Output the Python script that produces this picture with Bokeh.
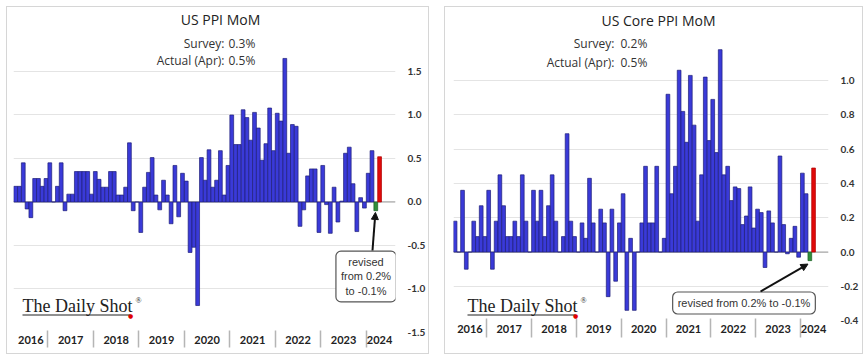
from bokeh.plotting import figure
from bokeh.layouts import row, column
from bokeh.models import (FixedTicker, NumeralTickFormatter, Span, Label, Arrow,
                          NormalHead, BoxAnnotation, Range1d, ColumnDataSource, Spacer)
from bokeh.embed import file_html
from bokeh.resources import INLINE

# ---------------- data ----------------
years = ["2016", "2017", "2018", "2019", "2020", "2021", "2022", "2023", "2024"]
months_per_year = [9, 12, 12, 12, 12, 12, 12, 12, 4]   # Apr-2016 .. Apr-2024

ppi_mom = [0.18, 0.18, 0.45, -0.08, -0.18, 0.27, 0.27, 0.18, 0.27,
           0.45, 0.0, 0.18, 0.45, -0.1, 0.09, 0.09, 0.35, 0.35, 0.35, 0.35, 0.09,
           0.35, 0.26, 0.17, 0.17, 0.35, 0.35, 0.08, 0.08, 0.17, 0.68, -0.1, 0.0,
           -0.35, 0.17, 0.34, 0.51, 0.08, -0.09, 0.25, 0.08, -0.25, 0.42, -0.17, 0.33,
           0.24, -0.58, -0.52, -1.19, 0.51, 0.25, 0.6, 0.17, 0.25, 0.59, 0.08, 0.42,
           1.0, 0.66, 0.66, 1.06, 0.97, 0.71, 1.03, 0.85, 0.48, 0.67, 1.08, 0.59,
           1.02, 0.93, 1.65, 0.56, 0.89, 0.87, -0.28, -0.09, 0.30, 0.38, 0.38, -0.35,
           0.42, -0.03, -0.36, 0.17, -0.23, 0.01, 0.56, 0.63, 0.21, -0.34, 0.05, -0.07,
           0.33, 0.59, -0.1, 0.52]

core_ppi_mom = [0.18, 0.0, 0.36, -0.1, 0.0, 0.18, 0.09, 0.27, 0.09,
                0.36, -0.1, 0.18, 0.45, 0.27, 0.09, 0.09, 0.18, 0.09, 0.45, 0.18, 0.0,
                0.36, 0.18, 0.36, 0.09, 0.27, 0.45, 0.18, 0.0, 0.09, 0.69, 0.18, 0.09,
                0.0, 0.17, 0.08, 0.43, 0.17, 0.0, 0.25, 0.17, -0.26, 0.25, -0.17, 0.17,
                0.34, -0.34, 0.08, -0.34, 0.0, 0.17, 0.5, 0.17, 0.17, 0.5, 0.0, 0.08,
                0.92, 0.34, 0.5, 1.06, 0.82, 0.64, 1.03, 0.74, 0.18, 0.45, 1.02, 0.65,
                0.89, 0.58, 1.18, 0.45, 0.5, 0.3, 0.38, 0.37, 0.16, 0.21, 0.38, 0.14,
                0.25, 0.23, -0.09, 0.24, 0.17, 0.0, 0.56, 0.16, -0.01, 0.08, 0.15, -0.03,
                0.46, 0.34, -0.05, 0.49]

ppi_ticks = [-1.5, -1.0, -0.5, 0.0, 0.5, 1.0, 1.5]
core_ticks = [-0.4, -0.2, 0.0, 0.2, 0.4, 0.6, 0.8, 1.0]

ppi_title = "US PPI MoM"
core_title = "US Core PPI MoM"
ppi_survey, ppi_actual = "0.3%", "0.5%"
core_survey, core_actual = "0.2%", "0.5%"
revised_note = "revised from 0.2% to -0.1%"

# ---------------- styles ----------------
BLUE, BLUE_EDGE = "#3a3ad8", "#1e1e78"
RED, GREEN = "#e00a0a", "#2f8f3a"
SANS = "Lato"
TEXT = "Open Sans"
SERIF = "Liberation Serif"

n = len(ppi_mom)
idx = list(range(n))
colors = [BLUE] * (n - 2) + [GREEN, RED]
edges = [BLUE_EDGE] * (n - 2) + ["#1d5e25", "#b00000"]

# year separators / label positions
starts = []
s = 0
for m in months_per_year:
    starts.append(s)
    s += m
label_pos = [max(st + (m - 1) / 2.0, st + 3.0) for st, m in zip(starts, months_per_year)]
separators = [st - 0.5 for st in starts[1:]]


def make_panel(vals, ticks, width, height, xr, yr, borders, tick_in, tick_out, standoff):
    bl, br, bt, bb = borders
    p = figure(width=width, height=height, x_range=Range1d(*xr), y_range=Range1d(*yr),
               y_axis_location="right", toolbar_location=None, output_backend="svg",
               min_border_left=bl, min_border_right=br, min_border_top=bt,
               min_border_bottom=bb)
    p.outline_line_color = None
    p.background_fill_color = "white"
    p.border_fill_color = "white"
    p.styles = {"outline": "1px solid #d6d6d6"}

    p.add_layout(Span(location=0, dimension="width", line_color="#9a9a9a",
                      line_width=1, level="underlay"))

    src = ColumnDataSource(dict(x=idx, top=vals, fill=colors, edge=edges))
    p.vbar(x="x", top="top", bottom=0, width=1.0, source=src,
           fill_color="fill", line_color="edge", line_width=0.7)

    p.xgrid.grid_line_color = None
    p.ygrid.ticker = FixedTicker(ticks=ticks[1:])
    p.ygrid.grid_line_color = "#e4e4e4"
    p.ygrid.grid_line_width = 1

    ya = p.yaxis[0]
    ya.ticker = FixedTicker(ticks=ticks)
    ya.formatter = NumeralTickFormatter(format="0.0")
    ya.axis_line_color = None
    ya.major_tick_line_color = None
    ya.minor_tick_line_color = None
    ya.major_label_text_font = SANS
    ya.major_label_text_font_style = "bold"
    ya.major_label_text_font_size = "10px"
    ya.major_label_text_color = "#333333"
    ya.major_label_standoff = 6

    xa = p.xaxis[0]
    xa.ticker = FixedTicker(ticks=label_pos, minor_ticks=separators)
    xa.major_label_overrides = {float(pos): y for pos, y in zip(label_pos, years)}
    xa.axis_line_color = None
    xa.major_tick_line_color = None
    xa.major_tick_out = 0
    xa.major_tick_in = 0
    xa.minor_tick_line_color = "#b5b5b5"
    xa.minor_tick_line_width = 1.5
    xa.minor_tick_in = tick_in
    xa.minor_tick_out = tick_out
    xa.major_label_text_font = SANS
    xa.major_label_text_font_style = "bold"
    xa.major_label_text_font_size = "11px"
    xa.major_label_text_color = "#222222"
    xa.major_label_standoff = standoff
    return p


def lab(p, x, y, text, size="12px", align="left", font=TEXT, color="#333333",
        baseline="middle", style="normal", **kw):
    p.add_layout(Label(x=x, y=y, x_units="screen", y_units="screen", text=text,
                       text_font=font, text_font_size=size, text_align=align,
                       text_baseline=baseline, text_color=color,
                       text_font_style=style, **kw))


def logo(p, x, y):
    # x: left edge of text, y: vertical middle of text (frame-relative screen units)
    lab(p, x, y, "The Daily Shot", size="18px", font=SERIF, color="#222222")
    lab(p, x + 113, y + 5, "®", size="8px", font=SERIF, color="#222222")
    p.add_layout(BoxAnnotation(left=x, right=x + 108, bottom=y - 10, top=y - 9,
                               left_units="screen", right_units="screen",
                               top_units="screen", bottom_units="screen",
                               fill_color="#222222", fill_alpha=1, line_color=None))
    lab(p, x + 108, y - 9.5, "●", size="6px", font="DejaVu Sans", color="#e00000",
        align="center")


# Both frames share page y 8..332 (the row aligns frame borders); labels are
# clipped to the frame, so the frame reaches up to hold the titles.
# Screen units below are measured from each frame's bottom-left corner.

# ---------------- left panel: US PPI MoM (frame page x 13..403) ----------------
p1 = make_panel(ppi_mom, ppi_ticks, 421, 346, (-0.58, 100.2), (-1.5, 2.224),
                (6, 25, 1, 21), 2, 15, -12)
lab(p1, 207, 313, ppi_title, size="14px", align="center", color="#222222")
lab(p1, 211, 289, "Survey:", align="right")
lab(p1, 215, 289, ppi_survey)
lab(p1, 211, 272, "Actual (Apr):", align="right")
lab(p1, 215, 272, ppi_actual)
logo(p1, 9, 27)
p1.add_layout(Label(x=352.5, y=56, x_units="screen", y_units="screen",
                    text="revised\nfrom 0.2%\nto -0.1%", text_font="Liberation Sans",
                    text_font_size="11px", text_align="center", text_baseline="middle",
                    text_color="#333333", background_fill_color="white",
                    border_line_color="#555555", border_line_width=1.2,
                    border_radius=5, padding=5))
p1.add_layout(Arrow(x_start=359, y_start=82, start_units="screen",
                    x_end=n - 2 - 0.1, y_end=ppi_mom[n - 2] - 0.02, end_units="data",
                    line_width=2, line_color="#111111",
                    end=NormalHead(size=7, fill_color="#111111", line_color="#111111")))

# ---------------- right panel: US Core PPI MoM (frame page x 453..828) ----------------
p2 = make_panel(core_ppi_mom, core_ticks, 417, 346, (-0.42, 100.0), (-0.469, 1.42),
                (8, 34, 1, 21), 14, 5, -13)
lab(p2, 205, 312, core_title, size="14px", align="center", color="#222222")
lab(p2, 161, 289, "Survey:", align="right")
lab(p2, 167, 289, core_survey)
lab(p2, 161, 270, "Actual (Apr):", align="right")
lab(p2, 167, 270, core_actual)
logo(p2, 14, 27)
p2.add_layout(Label(x=290.5, y=29.5, x_units="screen", y_units="screen",
                    text=revised_note, text_font="Liberation Sans",
                    text_font_size="11px", text_align="center", text_baseline="middle",
                    text_color="#333333", background_fill_color="white",
                    border_line_color="#555555", border_line_width=1.2,
                    border_radius=5, padding=5))
p2.add_layout(Arrow(x_start=307, y_start=41, start_units="screen",
                    x_end=n - 2 - 0.5, y_end=core_ppi_mom[n - 2] - 0.02, end_units="data",
                    line_width=2, line_color="#111111",
                    end=NormalHead(size=7, fill_color="#111111", line_color="#111111")))

layout = column(Spacer(width=10, height=7),
                row(Spacer(width=7, height=10), p1, Spacer(width=17, height=10), p2))
open("out.html", "w").write(file_html(layout, INLINE))
